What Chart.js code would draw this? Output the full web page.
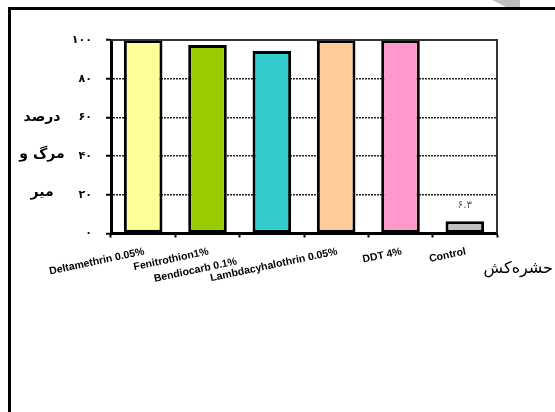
<!DOCTYPE html>
<html lang="fa">
<head>
	<meta charset="UTF-8">
	<meta name="viewport" content="width=device-width, initial-scale=1.0">
	<title>درصد مرگ و میر</title>

	<script src="https://cdn.jsdelivr.net/npm/chart.js@4.4.0/dist/chart.umd.min.js"></script>

	<style>
		body { margin: 0; background: #fff; }
		#wrap { position: relative; width: 555px; height: 412px; overflow: hidden; }
		#frame {
			position: absolute; left: 8px; top: 7px; width: 600px; height: 500px;
			border-top: 3px solid #000; border-left: 3px solid #000; pointer-events: none;
		}
		#shade {
			position: absolute; left: 492px; top: 0; width: 28px; height: 7px; background: #c0c0c0;
			clip-path: polygon(0 0, 100% 0, 100% 100%, 50% 100%);
		}
	</style>
</head>
<body>
	<div id="wrap">
		<canvas id="grafico_barra"></canvas>
		<div id="frame"></div>
		<div id="shade"></div>
	</div>
	<script>

		// dados
		const categorias = ['Deltamethrin 0.05%', 'Fenitrothion1%', 'Bendiocarb 0.1%', 'Lambdacyhalothrin 0.05%', 'DDT 4%', 'Control'];
		const mortalidade = [100, 97.4, 94.3, 100, 100, 6.3];
		const rotulosValor = ['', '', '', '', '', '۶.۳'];
		const rotulosY = ['۰', '۲۰', '۴۰', '۶۰', '۸۰', '۱۰۰'];
		const tituloY = ['درصد', 'مرگ و', 'میر'];
		const tituloX = 'حشره\u200cکش';

		const cores = ['#ffff99', '#99cc00', '#33cccc', '#ffcc99', '#ff99cc', '#c0c0c0'];

		// desenha rótulos, títulos e moldura
		const extras = {
			id: 'extras',
			afterDatasetsDraw(chart) {
				const ctx = chart.ctx;
				const area = chart.chartArea;
				const meta = chart.getDatasetMeta(0);

				ctx.save();
				ctx.strokeStyle = '#333';
				ctx.lineWidth = 2;
				ctx.beginPath();
				ctx.moveTo(area.left, area.top);
				ctx.lineTo(area.right, area.top);
				ctx.lineTo(area.right, area.bottom);
				ctx.stroke();

				ctx.fillStyle = '#555';
				ctx.font = '10px "DejaVu Sans"';
				ctx.textAlign = 'center';
				ctx.textBaseline = 'middle';
				meta.data.forEach((bar, i) => {
					if (rotulosValor[i]) ctx.fillText(rotulosValor[i], bar.x, bar.y - 16);
				});
				ctx.restore();
			},
			afterDraw(chart) {
				const ctx = chart.ctx;
				const area = chart.chartArea;
				const xs = chart.scales.x;

				ctx.save();
				ctx.fillStyle = '#000';
				ctx.font = 'bold 10.5px "Liberation Sans"';
				ctx.textAlign = 'right';
				ctx.textBaseline = 'middle';
				const desloc = { 2: [-36, 10] };
				categorias.forEach((nome, i) => {
					const d = desloc[i] || [0, 0];
					ctx.save();
					ctx.translate(xs.getPixelForTick(i) + 1 + d[0], area.bottom + 18 + d[1]);
					ctx.rotate(-12 * Math.PI / 180);
					ctx.fillText(nome, 0, 0);
					ctx.restore();
				});

				ctx.font = 'bold 14px "DejaVu Sans"';
				ctx.textAlign = 'center';
				const ys = [117, 154, 192];
				tituloY.forEach((t, i) => ctx.fillText(t, 42, ys[i]));

				ctx.font = '16px "DejaVu Sans"';
				ctx.textAlign = 'right';
				ctx.fillText(tituloX, 553, 269);
				ctx.restore();
			}
		};

		new Chart(document.querySelector('#grafico_barra'), {
			type: 'bar',
			data: {
				labels: categorias,
				datasets: [{
					data: mortalidade,
					backgroundColor: cores,
					borderColor: '#000',
					borderWidth: 3,
					borderSkipped: false,
					barPercentage: 0.6,
					categoryPercentage: 1
				}]
			},
			options: {
				responsive: true,
				maintainAspectRatio: false,
				animation: false,
				layout: { padding: { left: 71, top: 40, right: 58, bottom: 0 } },
				plugins: {
					legend: { display: false },
					tooltip: { enabled: false }
				},
				scales: {
					x: {
						afterFit: s => { s.height = 178.5; },
						ticks: { display: false },
						grid: {
							offset: true,
							drawOnChartArea: false,
							drawTicks: true,
							tickLength: 4,
							tickColor: '#000',
							tickWidth: 2
						},
						border: { color: '#000', width: 3 }
					},
					y: {
						min: 0,
						max: 100,
						afterFit: s => { s.width = 40; },
						ticks: {
							stepSize: 20,
							padding: 14,
							color: '#000',
							font: { family: 'DejaVu Sans', size: 11, weight: 'bold' },
							callback: v => rotulosY[v / 20]
						},
						grid: {
							color: '#222',
							lineWidth: 1.5,
							tickLength: 5,
							tickColor: '#000',
							tickWidth: 2
						},
						border: { color: '#000', width: 3, dash: [2, 1] }
					}
				}
			},
			plugins: [extras]
		});

	</script>
</body>
</html>
